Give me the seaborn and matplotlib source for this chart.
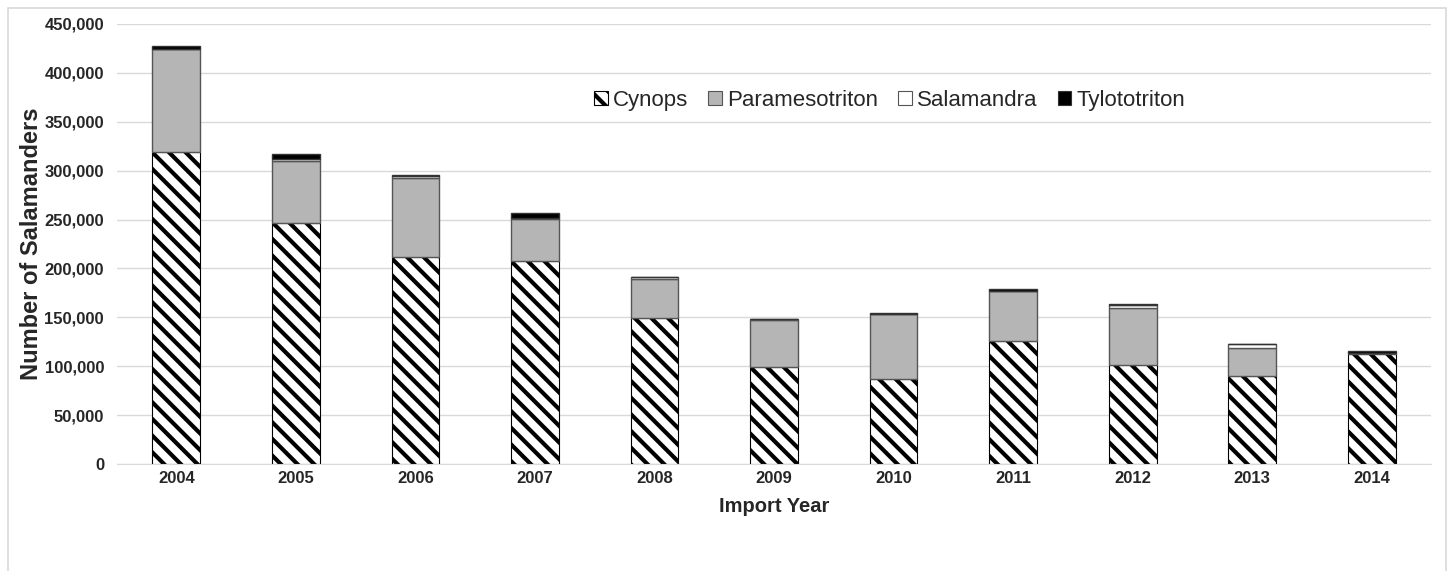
import pandas as pd
import matplotlib.pyplot as plt
import matplotlib.ticker as mticker
from matplotlib.patches import Patch, Rectangle
import seaborn as sns

# Salamander imports per genus
years = ['2004', '2005', '2006', '2007', '2008', '2009', '2010', '2011', '2012', '2013', '2014']
cynops = [319000, 246000, 212000, 207500, 149000, 99500, 87000, 126000, 101000, 90000, 112500]
paramesotriton = [105000, 64000, 80000, 43000, 40000, 48000, 66500, 51000, 59000, 29000, 1000]
salamandra = [500, 2000, 3000, 1500, 2000, 500, 300, 300, 2500, 3500, 300]
tylototriton = [3000, 4800, 300, 5000, 300, 500, 300, 2000, 800, 300, 1800]

genera = ['Cynops', 'Paramesotriton', 'Salamandra', 'Tylototriton']
df = pd.DataFrame({'year': years, 'Cynops': cynops, 'Paramesotriton': paramesotriton,
                   'Salamandra': salamandra, 'Tylototriton': tylototriton})

sns.set_style('white')
plt.rcParams['font.family'] = ['Liberation Sans', 'DejaVu Sans']
plt.rcParams['hatch.linewidth'] = 3.0

styles = {
    'Cynops': dict(color='white', edgecolor='black', hatch='\\\\', linewidth=0.8),
    'Paramesotriton': dict(color='#b5b5b5', edgecolor='#555555', linewidth=1.0),
    'Salamandra': dict(color='white', edgecolor='#555555', linewidth=1.0),
    'Tylototriton': dict(color='black', edgecolor='#333333', linewidth=1.0),
}

fig = plt.figure(figsize=(14.48, 5.71), dpi=100)
ax = fig.add_axes([0.0805, 0.1874, 0.9081, 0.7706])

bottom = pd.Series(0, index=df.index, dtype=float)
for g in genera:
    sns.barplot(data=df, x='year', y=g, order=years, width=0.4, bottom=bottom.values,
                ax=ax, errorbar=None, **styles[g])
    bottom += df[g]

ax.set_xlim(-0.5, 10.5)
ax.set_ylim(0, 450000)
ax.yaxis.set_major_locator(mticker.MultipleLocator(50000))
ax.yaxis.set_major_formatter(mticker.FuncFormatter(lambda v, p: f'{int(v):,}'))
ax.grid(axis='y', color='#d9d9d9', linewidth=1)
ax.set_axisbelow(True)
for s in ['top', 'right', 'left']:
    ax.spines[s].set_visible(False)
ax.spines['bottom'].set_color('#d9d9d9')
ax.tick_params(axis='x', length=0, pad=5, labelsize=12)
ax.tick_params(axis='y', length=0, pad=9, labelsize=12)
for lab in ax.get_xticklabels() + ax.get_yticklabels():
    lab.set_fontweight('bold')

ax.set_xlabel('Import Year', fontsize=14.5, fontweight='bold', labelpad=8)
ax.set_ylabel('Number of Salamanders', fontsize=17, fontweight='bold', labelpad=1)

handles = [Patch(facecolor=styles[g]['color'], edgecolor=styles[g]['edgecolor'],
                 hatch=styles[g].get('hatch'), linewidth=0.8) for g in genera]
ax.legend(handles, genera, loc='center', bbox_to_anchor=(0.588, 0.827), ncol=4,
          frameon=False, fontsize=16, handlelength=0.6, handleheight=0.6,
          handletextpad=0.25, columnspacing=0.9)

# light frame around the whole chart
fig.patches.append(Rectangle((8 / 1448, -0.02), 1438 / 1448, 1.02 - 8 / 571,
                             transform=fig.transFigure, fill=False,
                             edgecolor='#d9d9d9', linewidth=1.2))

fig.savefig('out.png', dpi=100)
